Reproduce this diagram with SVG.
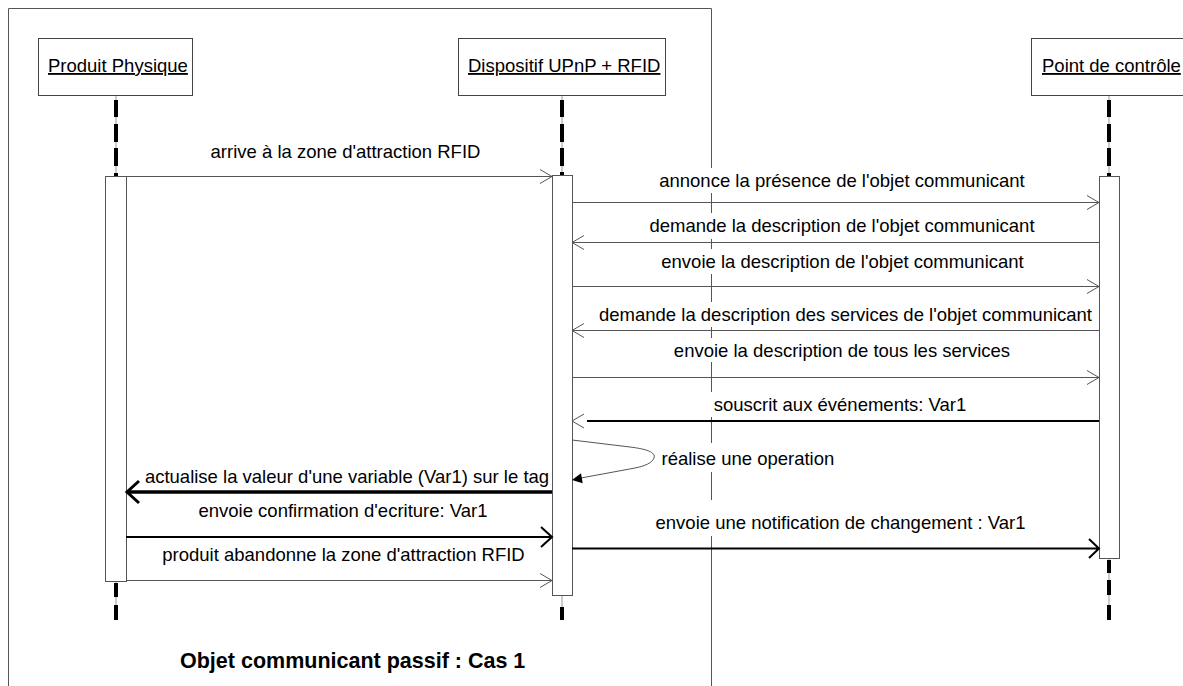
<svg xmlns="http://www.w3.org/2000/svg" width="1183" height="686" viewBox="0 0 1183 686">
<style>
.frame{stroke:#555;stroke-width:1;fill:none}
.box{fill:#fff;stroke:#444;stroke-width:1}
.bar{fill:#fff;stroke:#555;stroke-width:1}
.ll{stroke:#999;stroke-width:1;fill:none}
.dash{stroke:#000;stroke-width:4;fill:none}
.thin{stroke:#555;stroke-width:1;fill:none}
.thick{stroke:#000;stroke-width:2;fill:none}
.heavy{stroke:#000;stroke-width:3.5;fill:none}
.t{font-family:"Liberation Sans",Arial,sans-serif;font-size:18.5px;fill:#000}
.m{text-anchor:middle}
.hd{text-decoration:underline}
.bg{fill:#fff;stroke:none}
.title{font-family:"Liberation Sans",Arial,sans-serif;font-size:21.5px;font-weight:bold;fill:#000}
</style>
<rect width="1183" height="686" fill="#fff"/>
<path class="frame" d="M8.5,686 V8.5 H711.5 V686"/>

<g id="produit">
<rect class="box" x="38.5" y="38.5" width="154" height="57"/>
<text class="t hd" x="48" y="72">Produit Physique</text>
<path class="ll" d="M116,96 V176 M116,582 V620"/>
<path class="dash" d="M116,100 V117 M116,124 V142 M116,148 V166 M116,583 V597 M116,605 V620"/>
<rect x="114" y="173" width="4" height="4" fill="#000"/>
<rect class="bar" x="105.5" y="176.5" width="21" height="405"/>
</g>

<g id="dispositif">
<rect class="box" x="458.5" y="38.5" width="207" height="57"/>
<text class="t hd" x="468" y="72">Dispositif UPnP + RFID</text>
<path class="ll" d="M562,96 V175 M562,596 V620"/>
<path class="dash" d="M562,100 V117 M562,124 V142 M562,148 V166 M562,607 V620"/>
<rect x="560" y="172" width="4" height="4" fill="#000"/>
<rect class="bar" x="552.5" y="175.5" width="20" height="420"/>
</g>

<g id="point">
<rect class="box" x="1031.5" y="38.5" width="155" height="57"/>
<text class="t hd" x="1042" y="72">Point de contrôle</text>
<path class="ll" d="M1109,96 V176 M1109,558 V620"/>
<path class="dash" d="M1109,100 V117 M1109,124 V142 M1109,148 V166 M1109,560 V573 M1109,580 V595 M1109,605 V620"/>
<rect x="1107" y="173" width="4" height="4" fill="#000"/>
<rect class="bar" x="1099.5" y="176.5" width="20" height="382"/>
</g>

<g id="connectors">
<path class="thin" d="M126,176.5 H552 M540,169.5 L552,176.5 L540,183.5"/>
<path class="thin" d="M572,202.5 H1099 M1087,195.5 L1099,202.5 L1087,209.5"/>
<path class="thin" d="M1099,242.5 H572 M584,235.5 L572,242.5 L584,249.5"/>
<path class="thin" d="M572,286.5 H1099 M1087,279.5 L1099,286.5 L1087,293.5"/>
<path class="thin" d="M1099,330.5 H572 M584,323.5 L572,330.5 L584,337.5"/>
<path class="thin" d="M572,377.5 H1099 M1087,370.5 L1099,377.5 L1087,384.5"/>
<path class="thick" d="M587,421 H1099"/>
<path class="thin" d="M584,414 L572,421 L584,428"/>
<path class="thin" d="M572,440 L630,447 C646,449 656,452 654,458 C652,463 645,466 635,468 L581,478"/>
<polygon points="572,480 582.7,483.2 581,473.3" fill="#000"/>
<path class="heavy" d="M552,492 H128"/>
<path stroke="#000" stroke-width="3" fill="none" d="M139,481 L127,492 L139,503"/>
<path class="thick" d="M126,537 H551 M541,527 L552,537 L541,547"/>
<path class="thick" d="M572,548.5 H1098 M1089,539 L1099,548.5 L1089,558"/>
<path class="thin" d="M126,580.5 H552 M540,573.5 L552,580.5 L540,587.5"/>
</g>

<g id="labels">
<text class="t m" x="345.5" y="158">arrive à la zone d'attraction RFID</text>
<rect class="bg" x="657" y="168" width="370" height="25"/>
<text class="t m" x="842" y="187">annonce la présence de l'objet communicant</text>
<rect class="bg" x="647" y="213" width="390" height="26"/>
<text class="t m" x="842" y="232">demande la description de l'objet communicant</text>
<rect class="bg" x="659" y="249" width="367" height="25"/>
<text class="t m" x="842.5" y="268">envoie la description de l'objet communicant</text>
<rect class="bg" x="597" y="302" width="497" height="25"/>
<text class="t m" x="845.5" y="321">demande la description des services de l'objet communicant</text>
<rect class="bg" x="672" y="338" width="340" height="24"/>
<text class="t m" x="842" y="357">envoie la description de tous les services</text>
<rect class="bg" x="709" y="392" width="262" height="25"/>
<text class="t m" x="840" y="411">souscrit aux événements: Var1</text>
<rect class="bg" x="659" y="443" width="177" height="29"/>
<text class="t" x="661.5" y="465">réalise une operation</text>
<text class="t m" x="347" y="483">actualise la valeur d'une variable (Var1) sur le tag</text>
<text class="t m" x="343" y="517">envoie confirmation d'ecriture: Var1</text>
<rect class="bg" x="653" y="500" width="374" height="36"/>
<text class="t m" x="840.5" y="529">envoie une notification de changement : Var1</text>
<text class="t m" x="343.5" y="561">produit abandonne la zone d'attraction RFID</text>
<text class="title" x="180" y="668">Objet communicant passif : Cas 1</text>
</g>
</svg>
